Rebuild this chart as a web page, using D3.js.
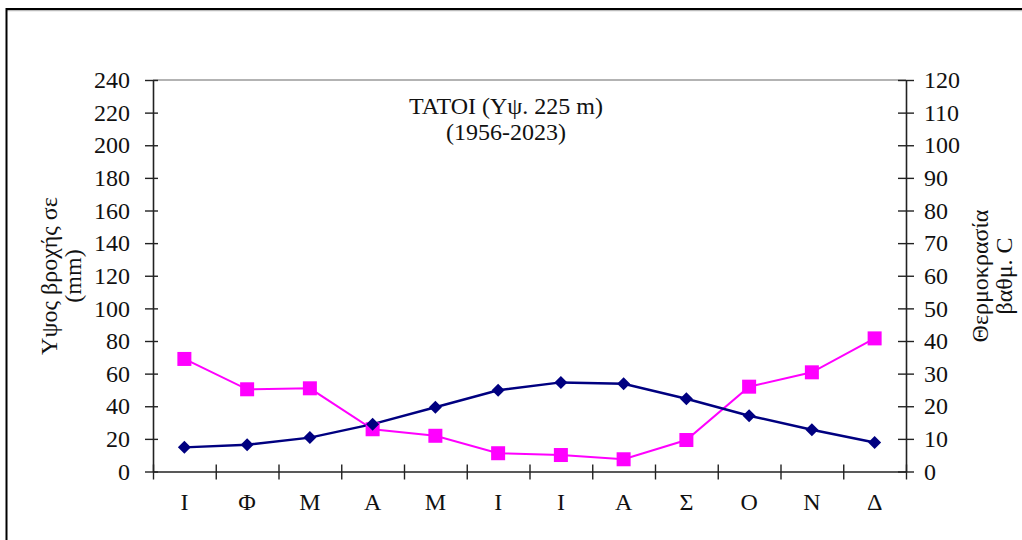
<!DOCTYPE html>
<html>
<head>
<meta charset="utf-8">
<script src="https://cdn.jsdelivr.net/npm/d3@7/dist/d3.min.js"></script>
<style>
  html, body { margin: 0; padding: 0; background: #fff; }
  svg { display: block; }
  text { font-family: "Liberation Serif", "Times New Roman", serif; fill: #111; }
</style>
</head>
<body>
<svg id="chart" width="1022" height="540"></svg>
<script>
// Monthly climate data for Tatoi
const months = ["Ι", "Φ", "Μ", "Α", "Μ", "Ι", "Ι", "Α", "Σ", "Ο", "Ν", "Δ"];
const rainfall = [69.0, 50.4, 51.0, 25.9, 21.9, 11.2, 10.1, 7.5, 19.3, 52.0, 60.8, 81.6];   // mm
const temperature = [7.4, 8.2, 10.4, 14.5, 19.7, 24.9, 27.3, 26.9, 22.3, 17.1, 12.8, 8.9]; // °C
const rainTicks = d3.range(0, 241, 20);
const tempTicks = d3.range(0, 121, 10);
const titleLines = ["TATOI (Υψ. 225 m)", "(1956-2023)"];
const leftTitle = ["Υψος βροχής σε", "(mm)"];
const rightTitle = ["Θερμοκρασία", "βαθμ. C"];

const svg = d3.select("#chart");
const plot = { left: 153, right: 906, top: 80, bottom: 471.5 };

const x = d3.scaleBand().domain(d3.range(months.length)).range([plot.left, plot.right]);
const xEdges = d3.scaleLinear().domain([0, months.length]).range([plot.left, plot.right]);
const yRain = d3.scaleLinear().domain([0, 240]).range([plot.bottom, plot.top]);
const yTemp = d3.scaleLinear().domain([0, 120]).range([plot.bottom, plot.top]);

// outer frame
svg.append("line").attr("x1", 7).attr("x2", 1022).attr("y1", 10.5).attr("y2", 10.5)
  .attr("stroke", "#bbb").attr("stroke-width", 1.5);
svg.append("line").attr("x1", 6.5).attr("x2", 1022).attr("y1", 9).attr("y2", 9)
  .attr("stroke", "#000").attr("stroke-width", 1.8);
svg.append("line").attr("x1", 6.5).attr("x2", 6.5).attr("y1", 8).attr("y2", 540)
  .attr("stroke", "#000").attr("stroke-width", 2);

// plot area top edge
svg.append("line").attr("x1", plot.left).attr("x2", plot.right)
  .attr("y1", plot.top).attr("y2", plot.top)
  .attr("stroke", "#9a9a9a").attr("stroke-width", 1.5);

const fontSize = 24;

// left axis
const gl = svg.append("g").attr("transform", `translate(${plot.left},0)`)
  .call(d3.axisLeft(yRain).tickValues(rainTicks).tickSize(8).tickPadding(15).tickSizeOuter(0));
gl.selectAll(".tick line").attr("x1", 5);
// right axis
const gr = svg.append("g").attr("transform", `translate(${plot.right},0)`)
  .call(d3.axisRight(yTemp).tickValues(tempTicks).tickSize(8).tickPadding(10).tickSizeOuter(0));
gr.selectAll(".tick line").attr("x1", -8);
// x axis: ticks at category boundaries
const gx = svg.append("g").attr("transform", `translate(0,${plot.bottom})`)
  .call(d3.axisBottom(xEdges).tickValues(d3.range(months.length + 1)).tickFormat("").tickSize(8).tickSizeOuter(0));
gx.selectAll(".tick line").attr("y1", -7);
const gxl = svg.append("g").attr("transform", `translate(0,${plot.bottom})`)
  .call(d3.axisBottom(x).tickFormat(i => months[i]).tickSize(0).tickPadding(21));
gxl.select(".domain").remove();

[gl, gr, gx].forEach(g => {
  g.select(".domain").attr("stroke", "#222").attr("stroke-width", 1.6);
  g.selectAll(".tick line").attr("stroke", "#222").attr("stroke-width", 1.4);
});
[gl, gr, gxl].forEach(g => {
  g.selectAll("text").attr("font-size", fontSize)
    .attr("font-family", '"Liberation Serif", serif').attr("fill", "#111");
});

// series lines
const rainLine = d3.line().x((d, i) => x(i) + x.bandwidth() / 2).y(d => yRain(d));
const tempLine = d3.line().x((d, i) => x(i) + x.bandwidth() / 2).y(d => yTemp(d));

svg.append("path").datum(rainfall).attr("d", rainLine)
  .attr("fill", "none").attr("stroke", "#ff00ff").attr("stroke-width", 2);
svg.append("path").datum(temperature).attr("d", tempLine)
  .attr("fill", "none").attr("stroke", "#000080").attr("stroke-width", 2.4);

// markers
const sq = 14;
svg.append("g").selectAll("rect").data(rainfall).join("rect")
  .attr("x", (d, i) => x(i) + x.bandwidth() / 2 - sq / 2)
  .attr("y", d => yRain(d) - sq / 2)
  .attr("width", sq).attr("height", sq)
  .attr("fill", "#ff00ff");
const dm = 6.5;
svg.append("g").selectAll("path").data(temperature).join("path")
  .attr("transform", (d, i) => `translate(${x(i) + x.bandwidth() / 2},${yTemp(d)})`)
  .attr("d", `M0,${-dm}L${dm},0L0,${dm}L${-dm},0Z`)
  .attr("fill", "#000080");

// chart title
svg.append("g").selectAll("text").data(titleLines).join("text")
  .attr("x", 506).attr("y", (d, i) => 114 + i * 26)
  .attr("text-anchor", "middle").attr("font-size", 24)
  .text(d => d);

// axis titles
svg.append("g").attr("transform", "translate(57,276) rotate(-90)")
  .selectAll("text").data(leftTitle).join("text")
  .attr("x", 0).attr("y", (d, i) => i * 24)
  .attr("text-anchor", "middle").attr("font-size", 24)
  .text(d => d);
svg.append("g").attr("transform", "translate(988,276) rotate(-90)")
  .selectAll("text").data(rightTitle).join("text")
  .attr("x", 0).attr("y", (d, i) => i * 24)
  .attr("text-anchor", "middle").attr("font-size", 24)
  .text(d => d);
</script>
</body>
</html>
